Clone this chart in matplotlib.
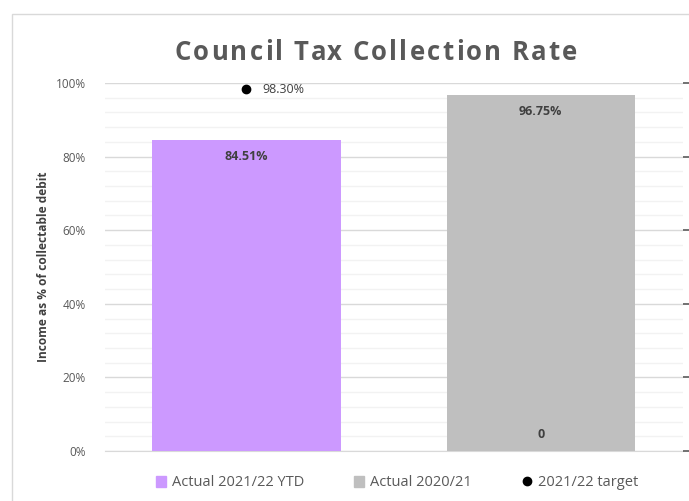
import matplotlib.pyplot as plt
from matplotlib.patches import Rectangle
from matplotlib.ticker import MultipleLocator, FuncFormatter
from matplotlib.lines import Line2D
from matplotlib.font_manager import FontProperties
import numpy as np

categories = ['Actual 2021/22 YTD', 'Actual 2020/21']
actual = [84.51, 96.75]
target = [98.30, 0]
target_name = '2021/22 target'
title = 'Council Tax Collection Rate'
bar_colors = ['#CC99FF', '#BFBFBF']

plt.rcParams['font.family'] = ['Open Sans', 'DejaVu Sans']

fig = plt.figure(figsize=(6.89, 5.01), dpi=100)
W, H = 689, 501

# chart frame
fig.patches.append(Rectangle((12 / W, -0.1), 1.2, 1 - 14 / H + 0.1, transform=fig.transFigure,
                             fill=False, edgecolor='#D9D9D9', linewidth=1))

ax = fig.add_axes([105 / W, 1 - 451 / H, (683 - 105) / W, (451 - 83) / H])
x = np.arange(len(categories))
ax.bar(x, actual, width=0.64, color=bar_colors, zorder=3)
ax.set_xlim(-0.48, 1.483)
ax.set_ylim(0, 100)

ax.yaxis.set_major_locator(MultipleLocator(20))
ax.yaxis.set_minor_locator(MultipleLocator(4))
ax.yaxis.set_major_formatter(FuncFormatter(lambda v, p: f'{v:.0f}%'))
ax.grid(axis='y', which='major', color='#D9D9D9', linewidth=1, zorder=0)
ax.grid(axis='y', which='minor', color='#F2F2F2', linewidth=1, zorder=0)
ax.tick_params(axis='y', which='both', length=0, labelsize=8.5, labelcolor='#595959', pad=14)
ax.tick_params(axis='x', length=0, labelbottom=False)
for s in ax.spines.values():
    s.set_visible(False)
ax.spines['bottom'].set_visible(True)
ax.spines['bottom'].set_color('#D9D9D9')

# secondary axis ticks on the right
ax2 = ax.twinx()
ax2.set_ylim(0, 100)
ax2.yaxis.set_major_locator(MultipleLocator(20))
ax2.tick_params(axis='y', length=6, width=1.2, color='#595959', labelright=False, direction='out')
for s in ax2.spines.values():
    s.set_visible(False)

ax.set_ylabel('Income as % of collectable debit', fontsize=8.6, fontweight='bold',
              color='#404040', labelpad=4)

# bar labels
for xi, v in zip(x, actual):
    ax.text(xi, v - 4.5, f'{v:.2f}%', ha='center', va='center', fontsize=9,
            fontweight='bold', color='#404040', zorder=5)

# target points
ax.scatter([x[0]], [target[0]], s=36, color='black', zorder=6, clip_on=False)
ax.text(x[0] + 0.055, target[0], f'{target[0]:.2f}%', ha='left', va='center',
        fontsize=9, color='#404040', zorder=6)
ax.text(x[1], target[1] + 4.5, f'{target[1]:.0f}', ha='center', va='center',
        fontsize=9, fontweight='bold', color='#404040', zorder=6)

# title with letter spacing
fp = FontProperties(family='Open Sans', weight='bold', size=18.5)
renderer = fig.canvas.get_renderer()
def adv(s):
    return renderer.get_text_width_height_descent(s, fp, ismath=False)[0]
spacing = 2.2
total = adv(title) + spacing * (len(title) - 1)
x0 = 376 - total / 2
for i, ch in enumerate(title):
    if ch == ' ':
        continue
    px = x0 + adv(title[:i]) + spacing * i
    fig.text(px / W, 1 - 53 / H, ch, ha='left', va='center', fontproperties=fp,
             color='#595959')

handles = [Rectangle((0, 0), 1, 1, color=bar_colors[0]),
           Rectangle((0, 0), 1, 1, color=bar_colors[1]),
           Line2D([], [], marker='o', color='black', linestyle='none', markersize=6)]
fig.legend(handles, categories + [target_name], loc='center', ncol=3,
           bbox_to_anchor=(397 / W, 1 - 483 / H), frameon=False, fontsize=10.5,
           labelcolor='#595959', handlelength=0.7, handleheight=0.7, handletextpad=0.4,
           columnspacing=3.4)

fig.savefig('out.png', dpi=100)
